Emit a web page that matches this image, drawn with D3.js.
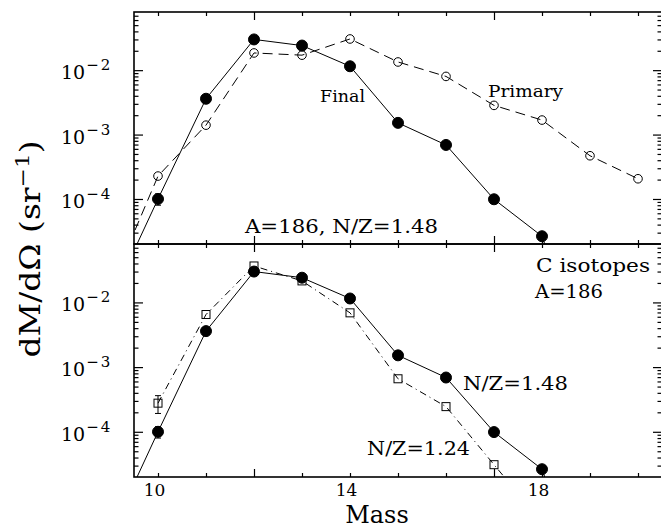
<!DOCTYPE html>
<html>
<head>
<meta charset="utf-8">
<script src="https://cdn.jsdelivr.net/npm/d3@7"></script>
<style>
  body { margin: 0; background: #fff; }
  text { font-family: "DejaVu Serif", serif; fill: #000; }
</style>
</head>
<body>
<div id="chart"></div>
<script>
// values (dM/dOmega in sr^-1 vs fragment mass)
const finalMass = [9, 10, 11, 12, 13, 14, 15, 16, 17, 18, 19];
const finalYield = [2.5e-6, 1.0e-4, 3.6e-3, 0.030, 0.0241, 0.0115, 1.52e-3, 6.9e-4, 9.9e-5, 2.64e-5, 2e-7];

const primaryMass = [9, 10, 11, 12, 13, 14, 15, 16, 17, 18, 19, 20];
const primaryYield = [4e-6, 2.27e-4, 1.40e-3, 0.0185, 0.0171, 0.0305, 0.0134, 0.0080, 2.84e-3, 1.68e-3, 4.69e-4, 2.06e-4];

const nz124Mass = [10, 11, 12, 13, 14, 15, 16, 17, 18];
const nz124Yield = [2.77e-4, 6.5e-3, 0.0366, 0.0215, 6.9e-3, 6.6e-4, 2.45e-4, 3.1e-5, 4e-6];

// error bars (only visible at mass 10)
const finalErrMass = [10];
const finalErrLo = [8e-5];
const finalErrHi = [1.2e-4];
const nz124ErrMass = [10];
const nz124ErrLo = [1.92e-4];
const nz124ErrHi = [3.62e-4];

const xTickLabels = [10, 14, 18];
const xMajorTicks = [12, 17];
const xMinorTicks = [10, 11, 13, 14, 15, 16, 18, 19, 20];
const yDecades = [-4, -3, -2];

const width = 661, height = 529;
const left = 134, right = 662;

const svg = d3.select('#chart').append('svg')
  .attr('width', width)
  .attr('height', height);

const x = d3.scaleLinear().domain([9.5, 20.5]).range([left, right]);

const panels = [
  { id: 'top', top: 12, bottom: 244 },
  { id: 'bot', top: 244, bottom: 477 }
];
panels.forEach(p => {
  p.y = d3.scaleLog().domain([2e-5, 0.08]).range([p.bottom, p.top]);
});

// minor log ticks 2..9 in each decade
const yMajor = yDecades.map(d => Math.pow(10, d));
const yMinor = [];
for (let d = -5; d <= -2; d++) {
  for (let k = 2; k <= 9; k++) {
    const v = k * Math.pow(10, d);
    if (v > 2e-5 && v < 0.08) yMinor.push(v);
  }
}

function tickAxis(g, axisFn, scale, values, size, tx, ty) {
  g.append('g')
    .attr('transform', `translate(${tx},${ty})`)
    .call(axisFn(scale).tickValues(values).tickSize(size).tickFormat(''))
    .call(s => s.select('.domain').remove())
    .selectAll('line').attr('stroke-width', 1.2);
}

const defs = svg.append('defs');

panels.forEach(p => {
  const g = svg.append('g');

  defs.append('clipPath').attr('id', 'clip-' + p.id)
    .append('rect')
    .attr('x', left).attr('y', p.top)
    .attr('width', right - left).attr('height', p.bottom - p.top);

  // y ticks, left and right, pointing inward
  tickAxis(g, d3.axisLeft, p.y, yMajor, -9, left, 0);
  tickAxis(g, d3.axisLeft, p.y, yMinor, -4.5, left, 0);
  tickAxis(g, d3.axisRight, p.y, yMajor, -9, right, 0);
  tickAxis(g, d3.axisRight, p.y, yMinor, -4.5, right, 0);

  // x ticks on top and bottom edge
  tickAxis(g, d3.axisTop, x, xMajorTicks, -8, 0, p.top);
  tickAxis(g, d3.axisTop, x, xMinorTicks, -4, 0, p.top);
  tickAxis(g, d3.axisBottom, x, xMajorTicks, -8, 0, p.bottom);
  tickAxis(g, d3.axisBottom, x, xMinorTicks, -4, 0, p.bottom);

  // y tick labels 10^-n
  const lab = g.selectAll('.ylab')
    .data(yDecades)
    .join('text')
    .attr('class', 'ylab')
    .attr('x', 61)
    .attr('y', d => p.y(Math.pow(10, d)) + 9)
    .attr('font-size', 19);
  lab.append('tspan').text('10');
  lab.append('tspan')
    .attr('dy', -9)
    .attr('dx', 1)
    .attr('font-size', 15)
    .attr('letter-spacing', 2)
    .text(d => '\u2212' + Math.abs(d));

  p.g = g;
  p.data = g.append('g').attr('clip-path', `url(#clip-${p.id})`);
});

const zip = (a, b) => a.map((m, i) => [m, b[i]]);

function drawLine(p, pts, dash) {
  const line = d3.line().x(d => x(d[0])).y(d => p.y(d[1]));
  p.data.append('path')
    .datum(pts)
    .attr('d', line)
    .attr('fill', 'none')
    .attr('stroke', '#000')
    .attr('stroke-width', 1)
    .attr('stroke-dasharray', dash);
}

function drawErr(p, ms, lo, hi) {
  const g = p.data.append('g').attr('stroke', '#000').attr('stroke-width', 1);
  ms.forEach((m, i) => {
    g.append('line').attr('x1', x(m)).attr('x2', x(m)).attr('y1', p.y(lo[i])).attr('y2', p.y(hi[i]));
    [lo[i], hi[i]].forEach(v => {
      g.append('line').attr('x1', x(m) - 3).attr('x2', x(m) + 3).attr('y1', p.y(v)).attr('y2', p.y(v));
    });
  });
}

function drawDots(p, pts, filled, r) {
  p.data.selectAll(null)
    .data(pts)
    .join('circle')
    .attr('cx', d => x(d[0]))
    .attr('cy', d => p.y(d[1]))
    .attr('r', r)
    .attr('fill', filled ? '#000' : 'none')
    .attr('stroke', '#000')
    .attr('stroke-width', 1);
}

function drawSquares(p, pts, s) {
  p.data.selectAll(null)
    .data(pts)
    .join('rect')
    .attr('x', d => x(d[0]) - s / 2)
    .attr('y', d => p.y(d[1]) - s / 2)
    .attr('width', s)
    .attr('height', s)
    .attr('fill', 'none')
    .attr('stroke', '#000')
    .attr('stroke-width', 1);
}

const finalPts = zip(finalMass, finalYield);
const primaryPts = zip(primaryMass, primaryYield);
const nzPts = zip(nz124Mass, nz124Yield);

// top panel: primary vs final
const pt = panels[0];
drawLine(pt, primaryPts, '10,6');
drawDots(pt, primaryPts, false, 4.3);
drawLine(pt, finalPts, null);
drawErr(pt, finalErrMass, finalErrLo, finalErrHi);
drawDots(pt, finalPts, true, 5.5);

// bottom panel: N/Z=1.24 vs N/Z=1.48
const pb = panels[1];
drawLine(pb, nzPts, '7,4,1,4');
drawErr(pb, nz124ErrMass, nz124ErrLo, nz124ErrHi);
drawSquares(pb, nzPts, 8);
drawLine(pb, finalPts, null);
drawErr(pb, finalErrMass, finalErrLo, finalErrHi);
drawDots(pb, finalPts, true, 5.5);

// frames
panels.forEach(p => {
  svg.append('rect')
    .attr('x', left).attr('y', p.top)
    .attr('width', right - left).attr('height', p.bottom - p.top)
    .attr('fill', 'none')
    .attr('stroke', '#000')
    .attr('stroke-width', 1.6);
});

// x tick labels (shifted a little left, as in the original)
svg.selectAll('.xlab')
  .data(xTickLabels)
  .join('text')
  .attr('class', 'xlab')
  .attr('x', d => x(d) - 3.5)
  .attr('y', 496)
  .attr('text-anchor', 'middle')
  .attr('font-size', 17)
  .text(d => d);

// axis titles
svg.append('text')
  .attr('x', 377)
  .attr('y', 523)
  .attr('text-anchor', 'middle')
  .attr('font-size', 24)
  .text('Mass');

const yt = svg.append('text')
  .attr('transform', 'translate(40,249) rotate(-90)')
  .attr('text-anchor', 'middle')
  .attr('font-size', 27)
  .attr('textLength', 217)
  .attr('lengthAdjust', 'spacingAndGlyphs');
yt.append('tspan').text('dM/d\u03A9 (sr');
yt.append('tspan').attr('dy', -11).attr('font-size', 19).text('\u22121');
yt.append('tspan').attr('dy', 11).text(')');

// annotations
function note(txt, px, py, size, len) {
  svg.append('text')
    .attr('x', px).attr('y', py)
    .attr('font-size', size)
    .attr('textLength', len)
    .attr('lengthAdjust', 'spacingAndGlyphs')
    .text(txt);
}
note('Final', 320, 101.5, 16, 45);
note('Primary', 488, 97, 16, 75);
note('A=186, N/Z=1.48', 245, 233, 18, 193);
note('C isotopes', 536, 272, 18, 114);
note('A=186', 535, 298, 18, 68);
note('N/Z=1.48', 463, 390, 18, 105);
note('N/Z=1.24', 367, 455, 18, 103);
</script>
</body>
</html>
